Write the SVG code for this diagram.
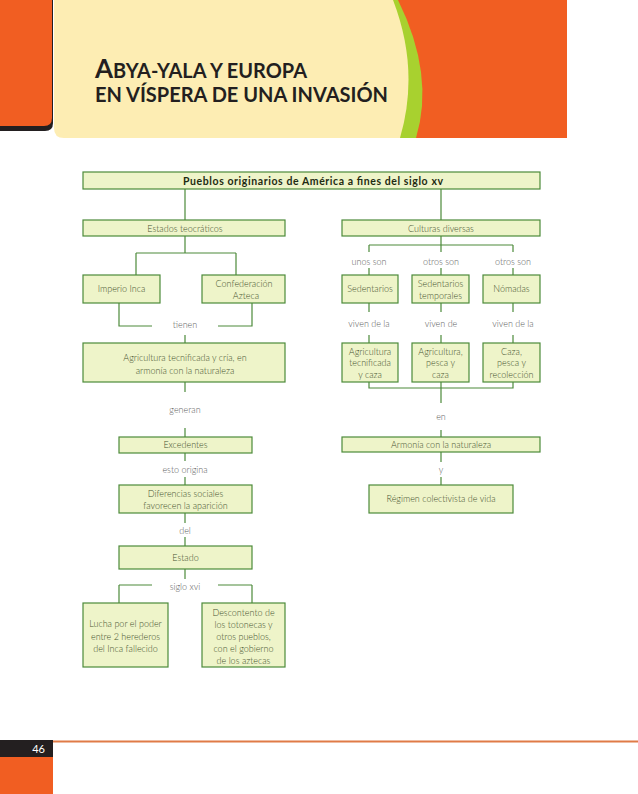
<svg xmlns="http://www.w3.org/2000/svg" width="638" height="794" viewBox="0 0 638 794">
<style>
.box{fill:#eef4c9;stroke:#4c8a3a;stroke-width:1.2}
.t{font-family:Lato,"Open Sans",sans-serif;font-size:9px;font-weight:300;fill:#46532f;text-anchor:middle}
.tb{font-family:Lato,"Open Sans",sans-serif;font-size:10.5px;font-weight:bold;fill:#1e2b12;text-anchor:middle}
.lbl{font-family:Lato,"Open Sans",sans-serif;font-size:9px;font-weight:300;fill:#5f5f5f;text-anchor:middle}
.con{fill:none;stroke:#4c8a3a;stroke-width:1.2}
.title{font-family:Lato,"Open Sans",sans-serif;font-weight:bold;fill:#231f20}
</style>
<rect width="638" height="794" fill="#fff"/>
<g id="header">
<path d="M0,0 H53 V123 Q53,131 45,131 H0 Z" fill="#231f20"/>
<path d="M0,0 H52 V118 Q52,126 44,126 H0 Z" fill="#f15e22"/>
<rect x="380" y="0" width="187" height="138" fill="#f15e22"/>
<path d="M380,0 H398 Q435,75 416,138 H380 Z" fill="#a8d12f"/>
<path d="M54,0 H393 Q420,70 400,138 H64 Q54,138 54,128 Z" fill="#fdedb3"/>
<text class="title" x="95" y="78"><tspan font-size="26">A</tspan><tspan x="113" font-size="20" textLength="194" lengthAdjust="spacingAndGlyphs">BYA-YALA Y EUROPA</tspan></text>
<text class="title" x="95" y="102" font-size="21" textLength="293" lengthAdjust="spacingAndGlyphs">EN VÍSPERA DE UNA INVASIÓN</text>
</g>
<g id="footer">
<rect x="0" y="740" width="53" height="17" fill="#231f20"/>
<rect x="0" y="757" width="53" height="37" fill="#f15e22"/>
<line x1="53" y1="741.5" x2="638" y2="741.5" stroke="#e07b47" stroke-width="2"/>
<text x="45" y="753" font-family="Lato,'Open Sans',sans-serif" font-size="11" fill="#fff" text-anchor="end">46</text>
</g>
<g id="connectors">
<path class="con" d="M185,189 V220 M441,189 V220
M185,236 V253 M136,253 H236 M136,253 V275 M236,253 V275
M119,303 V326 H152 M218,326 H252 V303 M185,335 V343
M185,382 V392 M185,428 V437
M185,453 V461 M185,477 V485
M185,513 V523 M185,537 V546
M185,569 V579 M119,585 H152 M218,585 H252 M119,585 V603 M252,585 V603
M441,236 V245 M369,245 H513 M369,245 V252 M441,245 V252 M513,245 V252
M369,268 V275 M441,268 V275 M513,268 V275
M369,303 V312 M441,303 V312 M513,303 V312
M369,335 V343 M441,335 V343 M513,335 V343
M369,382 V388 H513 V382 M441,382 V403 M441,430 V437
M441,452 V462 M441,477 V485"/>
<text class="lbl" x="185" y="328">tienen</text>
<text class="lbl" x="185" y="413">generan</text>
<text class="lbl" x="185" y="473">esto origina</text>
<text class="lbl" x="185" y="534">del</text>
<text class="lbl" x="185" y="590">siglo xvi</text>
<text class="lbl" x="369" y="265">unos son</text>
<text class="lbl" x="441" y="265">otros son</text>
<text class="lbl" x="513" y="265">otros son</text>
<text class="lbl" x="369" y="327">viven de la</text>
<text class="lbl" x="441" y="327">viven de</text>
<text class="lbl" x="513" y="327">viven de la</text>
<text class="lbl" x="441" y="420">en</text>
<text class="lbl" x="441" y="473">y</text>
</g>
<g id="n_top"><rect class="box" x="83" y="172" width="457" height="17"/><text class="tb" x="183" y="184.5" style="text-anchor:start" textLength="260">Pueblos originarios de América a fines del siglo xv</text></g>
<g id="n_estados"><rect class="box" x="83" y="220" width="202" height="16"/><text class="t" x="185" y="231.5">Estados teocráticos</text></g>
<g id="n_culturas"><rect class="box" x="342" y="220" width="198" height="16"/><text class="t" x="441" y="231.5">Culturas diversas</text></g>
<g id="n_inca"><rect class="box" x="83" y="275" width="77" height="28"/><text class="t" x="121.5" y="292">Imperio Inca</text></g>
<g id="n_azteca"><rect class="box" x="202" y="275" width="83" height="28"/><text class="t" x="244" y="287">Confederación</text><text class="t" x="246" y="299">Azteca</text></g>
<g id="n_agricultura"><rect class="box" x="83" y="343" width="202" height="39"/><text class="t" x="185" y="361">Agricultura tecnificada y cría, en</text><text class="t" x="185" y="374">armonía con la naturaleza</text></g>
<g id="n_excedentes"><rect class="box" x="119" y="437" width="133" height="16"/><text class="t" x="185.5" y="448">Excedentes</text></g>
<g id="n_diferencias"><rect class="box" x="119" y="485" width="133" height="28"/><text class="t" x="185.5" y="497">Diferencias sociales</text><text class="t" x="185.5" y="509">favorecen la aparición</text></g>
<g id="n_estado"><rect class="box" x="119" y="546" width="133" height="23"/><text class="t" x="185.5" y="561">Estado</text></g>
<g id="n_lucha"><rect class="box" x="83" y="603" width="85" height="64"/><text class="t" x="125.5" y="627">Lucha por el poder</text><text class="t" x="125.5" y="640">entre 2 herederos</text><text class="t" x="125.5" y="652">del Inca fallecido</text></g>
<g id="n_descontento"><rect class="box" x="202" y="603" width="83" height="64"/><text class="t" x="243.5" y="616">Descontento de</text><text class="t" x="243.5" y="628">los totonecas y</text><text class="t" x="243.5" y="640">otros pueblos,</text><text class="t" x="243.5" y="652">con el gobierno</text><text class="t" x="243.5" y="664">de los aztecas</text></g>
<g id="n_sedentarios"><rect class="box" x="342" y="275" width="56" height="28"/><text class="t" x="370" y="292">Sedentarios</text></g>
<g id="n_sedtemporales"><rect class="box" x="412" y="275" width="57" height="28"/><text class="t" x="440.5" y="287">Sedentarios</text><text class="t" x="440.5" y="299">temporales</text></g>
<g id="n_nomadas"><rect class="box" x="483" y="275" width="57" height="28"/><text class="t" x="511.5" y="292">Nómadas</text></g>
<g id="n_agri_tec"><rect class="box" x="342" y="343" width="56" height="39"/><text class="t" x="370" y="355">Agricultura</text><text class="t" x="370" y="366">tecnificada</text><text class="t" x="370" y="378">y caza</text></g>
<g id="n_agri_pesca"><rect class="box" x="412" y="343" width="57" height="39"/><text class="t" x="440.5" y="355">Agricultura,</text><text class="t" x="440.5" y="366">pesca y</text><text class="t" x="440.5" y="378">caza</text></g>
<g id="n_caza"><rect class="box" x="483" y="343" width="57" height="39"/><text class="t" x="511.5" y="355">Caza,</text><text class="t" x="511.5" y="366">pesca y</text><text class="t" x="511.5" y="378">recolección</text></g>
<g id="n_armonia"><rect class="box" x="342" y="437" width="198" height="15"/><text class="t" x="441" y="448">Armonía con la naturaleza</text></g>
<g id="n_regimen"><rect class="box" x="369" y="485" width="144" height="28"/><text class="t" x="441" y="502">Régimen colectivista de vida</text></g>
</svg>
